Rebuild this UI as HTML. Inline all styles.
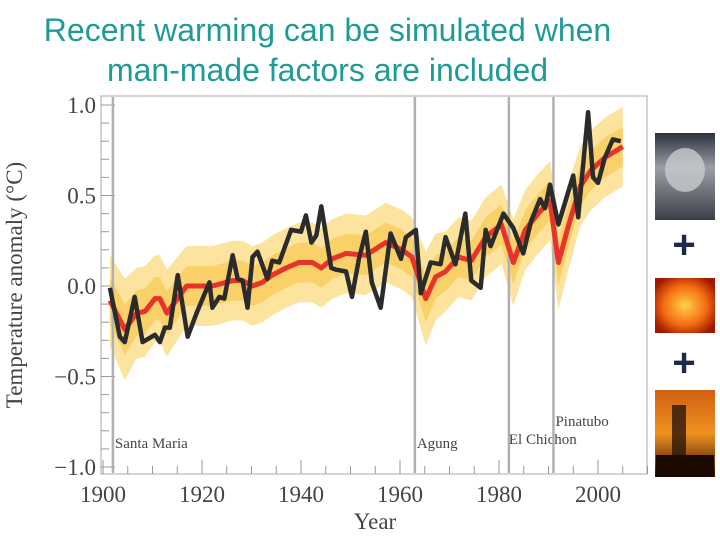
<!DOCTYPE html>
<html><head><meta charset="utf-8"><style>
body{margin:0;width:720px;height:540px;background:#fff;overflow:hidden;font-family:"Liberation Sans",sans-serif}
.title{position:absolute;left:0;top:10px;width:655px;text-align:center;color:#1f9b96;font-size:32px;line-height:40px}
</style></head><body>
<div class="title">Recent warming can be simulated when<br>man-made factors are included</div>
<svg id="c" width="720" height="540" style="position:absolute;left:0;top:0">
<defs>
<radialGradient id="sun" cx="50%" cy="50%" r="60%"><stop offset="0" stop-color="#ffd24a"/><stop offset="0.6" stop-color="#f26b10"/><stop offset="1" stop-color="#a01800"/></radialGradient>
<linearGradient id="volc" x1="0" y1="0" x2="0" y2="1"><stop offset="0" stop-color="#2a3140"/><stop offset="0.4" stop-color="#9a9ea6"/><stop offset="1" stop-color="#3a3f48"/></linearGradient>
<linearGradient id="fire" x1="0" y1="0" x2="0" y2="1"><stop offset="0" stop-color="#d06010"/><stop offset="0.5" stop-color="#f09020"/><stop offset="1" stop-color="#301000"/></linearGradient>
</defs>
<g id="plot"></g>
<rect x="655" y="133" width="60" height="87" fill="url(#volc)"/>
<ellipse cx="685" cy="170" rx="20" ry="22" fill="#c8cacd" opacity="0.8"/>
<text x="684" y="258" font-size="40" font-weight="bold" fill="#1e2a4a" text-anchor="middle" font-family="Liberation Sans">+</text>
<rect x="655" y="278" width="60" height="55" fill="url(#sun)"/>
<text x="684" y="376" font-size="40" font-weight="bold" fill="#1e2a4a" text-anchor="middle" font-family="Liberation Sans">+</text>
<rect x="655" y="390" width="60" height="87" fill="url(#fire)"/>
<rect x="672" y="405" width="14" height="72" fill="#2a1608" opacity="0.8"/>
<rect x="656" y="455" width="58" height="22" fill="#1a0a02"/>
</svg>
<script>
const obsYears=[1901.4,1903.4,1904.4,1906.4,1908.0,1910.5,1911.5,1912.5,1913.5,1915.1,1917.1,1918.9,1921.5,1922.1,1923.5,1924.5,1926.2,1927.2,1928.2,1929.2,1930.2,1931.2,1933.2,1934.2,1935.6,1938.0,1940.0,1941.0,1942.1,1943.1,1944.1,1946.1,1947.1,1949.1,1950.3,1951.7,1953.1,1954.3,1956.1,1958.1,1960.2,1961.2,1963.2,1964.2,1966.2,1968.2,1969.2,1971.2,1973.2,1974.4,1976.3,1977.3,1978.3,1980.9,1982.9,1984.9,1986.5,1988.3,1989.3,1990.3,1992.0,1995.0,1996.0,1998.0,1999.0,2000.0,2001.4,2003.0,2004.6];
const obsValues=[-0.01,-0.28,-0.31,-0.06,-0.31,-0.27,-0.31,-0.23,-0.23,0.06,-0.28,-0.15,0.02,-0.12,-0.06,-0.07,0.17,0.04,0.03,-0.12,0.16,0.19,0.04,0.14,0.13,0.31,0.30,0.39,0.24,0.28,0.44,0.10,0.09,0.08,-0.06,0.15,0.30,0.02,-0.12,0.29,0.15,0.27,0.31,-0.04,0.13,0.12,0.27,0.12,0.40,0.03,-0.01,0.31,0.22,0.40,0.32,0.18,0.36,0.48,0.43,0.56,0.34,0.61,0.38,0.96,0.60,0.57,0.71,0.81,0.80];
const modelYears=[1901.4,1904.4,1906.8,1908.5,1910.5,1911.5,1912.9,1916.9,1919.5,1922.1,1926.2,1928.2,1930.2,1932.2,1934.2,1937.0,1939.6,1942.3,1944.1,1946.3,1949.1,1953.1,1957.1,1960.4,1962.4,1965.2,1967.2,1969.2,1971.8,1974.4,1977.3,1980.5,1982.9,1985.3,1987.9,1990.3,1992.0,1994.0,1996.4,1998.6,2001.4,2005.0];
const modelValues=[-0.08,-0.24,-0.15,-0.14,-0.07,-0.07,-0.15,0.0,0.0,0.0,0.03,0.03,0.0,0.02,0.06,0.10,0.13,0.13,0.10,0.15,0.18,0.17,0.24,0.20,0.16,-0.07,0.05,0.08,0.16,0.14,0.27,0.34,0.13,0.31,0.40,0.47,0.13,0.33,0.55,0.64,0.71,0.77];
const spreadValues=[0.25,0.28,0.25,0.25,0.24,0.24,0.24,0.22,0.22,0.22,0.22,0.22,0.22,0.22,0.22,0.22,0.22,0.22,0.22,0.22,0.22,0.22,0.22,0.22,0.22,0.26,0.24,0.22,0.22,0.22,0.22,0.22,0.24,0.22,0.22,0.22,0.26,0.24,0.22,0.22,0.22,0.22];
const yTicks=[1.0,0.5,0.0,-0.5,-1.0];
const yTickLabels=["1.0","0.5","0.0","\u22120.5","\u22121.0"];
const xTicks=[1900,1920,1940,1960,1980,2000];
const eventYears=[1902,1963,1982,1991];
const eventNames=["Santa Maria","Agung","El Chichon","Pinatubo"];

const NS="http://www.w3.org/2000/svg";
const g=document.getElementById('plot');
const X=yr=>103+4.95*(yr-1900);
const Y=v=>286-181*v;
function mk(t,a,p){const e=document.createElementNS(NS,t);for(const k in a)e.setAttribute(k,a[k]);(p||g).appendChild(e);return e;}

const frame=mk('rect',{x:101,y:96,width:546,height:378,fill:'none',stroke:'#aaa','stroke-width':1});


for(let v=-1.0;v<=1.0001;v+=0.1){const big=Math.abs(v*2-Math.round(v*2))<1e-6;
 const t=mk('line',{x1:101,x2:101+(big?14:8),y1:Y(v),y2:Y(v),stroke:'#999','stroke-width':1});
 
 }
for(let yr=1900;yr<=2010;yr+=5){const big=yr%20===0;
 const t=mk('line',{x1:X(yr),x2:X(yr),y1:474,y2:474-(big?14:8),stroke:'#999','stroke-width':1});
 
 }
let up=modelYears.map((y,i)=>X(y)+','+Y(modelValues[i]+spreadValues[i]));
let lo=modelYears.map((y,i)=>X(y)+','+Y(modelValues[i]-spreadValues[i])).reverse();
const band=mk('polygon',{points:up.concat(lo).join(' '),fill:'#fbdc86',opacity:0.8});


const band2=mk('polygon',{points:modelYears.map((y,i)=>X(y)+','+Y(modelValues[i]+spreadValues[i]*0.5)).concat(modelYears.map((y,i)=>X(y)+','+Y(modelValues[i]-spreadValues[i]*0.5)).reverse()).join(' '),fill:'#f7c23e',opacity:0.55});


eventYears.forEach((yr,i)=>{
 const l=mk('line',{x1:X(yr),x2:X(yr),y1:97,y2:473,stroke:'#b0b0b0','stroke-width':2.5});
 
 
 const ty=i===3?426:(i===2?444:448);
 const t=mk('text',{x:X(yr)+(i===2?0:2),y:ty,'font-size':15,fill:'#444','font-family':'Liberation Serif, serif'});
 t.textContent=eventNames[i];
 
 
});
const red=mk('polyline',{points:modelYears.map((y,i)=>X(y)+','+Y(modelValues[i])).join(' '),fill:'none',stroke:'#e8332a','stroke-width':5,'stroke-linejoin':'round'});


const blk=mk('polyline',{points:obsYears.map((y,i)=>X(y)+','+Y(obsValues[i])).join(' '),fill:'none',stroke:'#2b2b2b','stroke-width':4.5,'stroke-linejoin':'round'});


yTicks.forEach((v,i)=>{const t=mk('text',{x:96,y:Y(v)+8,'font-size':23,'text-anchor':'end',fill:'#444','font-family':'Liberation Serif, serif'});
 t.textContent=yTickLabels[i];
 
 });
xTicks.forEach(yr=>{const t=mk('text',{x:X(yr),y:502,'font-size':23,'text-anchor':'middle',fill:'#444','font-family':'Liberation Serif, serif'});
 t.textContent=yr;
 
 });
const xt=mk('text',{x:375,y:529,'font-size':23,'text-anchor':'middle',fill:'#444','font-family':'Liberation Serif, serif'});
xt.textContent='Year';


const yt=mk('text',{x:0,y:0,'font-size':23,'text-anchor':'middle',fill:'#444','font-family':'Liberation Serif, serif',transform:'translate(22,285) rotate(-90)'});
yt.textContent='Temperature anomaly (\u00B0C)';


</script>
</body></html>
